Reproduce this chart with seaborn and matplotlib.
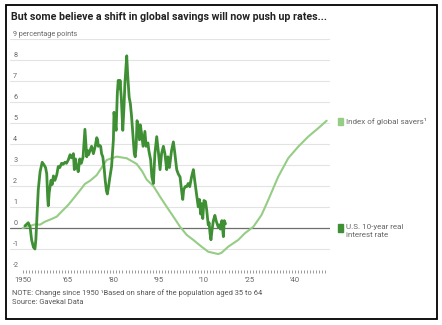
import matplotlib
matplotlib.use("Agg")
import matplotlib.pyplot as plt
import matplotlib.patches as mpatches
import matplotlib.transforms as mtransforms
import numpy as np
import pandas as pd
import seaborn as sns

# U.S. 10-year real interest rate, percentage points
us_years = [
    1950.8, 1951.9, 1952.5, 1953.0, 1953.6, 1954.1, 1954.4, 1954.7, 1955.2, 1955.8,
    1956.5, 1957.2, 1957.6, 1958.0, 1958.3, 1958.5, 1958.8, 1959.4, 1959.8, 1960.2,
    1960.7, 1961.3, 1961.8, 1962.3, 1962.9, 1963.4, 1964.0, 1964.5, 1965.1, 1965.7,
    1966.2, 1966.8, 1967.1, 1967.5, 1967.8, 1968.4, 1968.9, 1969.4, 1970.0, 1970.3,
    1970.6, 1970.9, 1971.2, 1971.5, 1971.8, 1972.3, 1972.8, 1973.4, 1974.0, 1974.5,
    1974.8, 1975.0, 1975.4, 1975.8, 1976.1, 1976.5, 1976.9, 1977.3, 1977.7, 1978.0,
    1978.4, 1978.8, 1979.4, 1980.0, 1980.2, 1980.5, 1980.9, 1981.3, 1981.6, 1982.0,
    1982.2, 1982.6, 1983.1, 1983.5, 1983.8, 1984.4, 1984.7, 1985.2, 1985.6, 1986.0,
    1986.4, 1986.9, 1987.2, 1987.5, 1987.8, 1988.2, 1988.6, 1988.9, 1989.3, 1989.8,
    1990.4, 1990.8, 1991.4, 1991.7, 1992.3, 1992.7, 1993.2, 1993.7, 1994.3, 1994.8,
    1995.4, 1995.9, 1996.5, 1997.0, 1997.6, 1998.0, 1998.5, 1999.2, 1999.8, 2000.3,
    2000.9, 2001.4, 2002.0, 2002.6, 2002.9, 2003.2, 2003.7, 2004.2, 2004.7, 2005.2,
    2005.8, 2006.4, 2006.9, 2007.4, 2008.0, 2008.4, 2008.8, 2009.1, 2009.5, 2009.9,
    2010.4, 2010.8, 2011.3, 2011.6, 2011.9, 2012.2, 2012.6, 2013.0, 2013.5, 2013.9,
    2014.6, 2015.0, 2015.3, 2015.8, 2016.3, 2016.6, 2017.0,
]
us_rate = [
    0.10, 0.25, 0.05, -0.56, -0.91, -1.00, -0.56, 0.35, 1.82, 2.68,
    3.13, 2.98, 2.88, 2.58, 1.47, 1.06, 1.67, 2.27, 2.07, 2.48,
    2.27, 2.53, 2.93, 2.88, 3.08, 3.03, 3.13, 3.08, 3.24, 3.49,
    3.34, 3.54, 2.78, 3.29, 2.98, 2.68, 3.29, 3.08, 3.39, 4.05,
    4.70, 4.05, 3.39, 3.69, 3.49, 3.69, 3.89, 3.54, 3.89, 4.30,
    4.20, 3.89, 3.94, 3.89, 3.54, 3.39, 2.93, 2.27, 1.77, 1.62,
    1.97, 2.38, 2.93, 4.20, 5.51, 5.11, 4.65, 6.42, 7.03, 6.63,
    7.03, 6.22, 4.65, 5.77, 6.88, 8.20, 7.33, 6.22, 5.92, 5.31,
    4.50, 3.54, 3.39, 3.84, 5.11, 4.91, 4.20, 4.91, 4.50, 3.89,
    4.60, 3.89, 4.05, 3.69, 3.24, 2.43, 2.12, 3.54, 4.35, 3.69,
    2.78, 3.54, 3.89, 3.54, 2.78, 3.39, 2.88, 3.69, 4.10, 3.54,
    2.78, 2.58, 2.43, 1.67, 1.36, 1.82, 1.97, 1.97, 2.12, 1.97,
    2.43, 2.78, 2.20, 1.67, 1.01, 1.36, 0.66, 1.16, 0.45, 1.31,
    1.26, 0.86, 0.15, 0.25, -0.26, -0.56, -0.05, 0.35, 0.60, 0.35,
    0.05, 0.15, -0.05, 0.35, -0.41, 0.35, 0.20,
]

# Index of global savers (share of population aged 35 to 64), change since 1950
savers_years = [
    1950.0, 1952.0, 1954.1, 1955.8, 1957.4, 1959.6, 1961.3, 1962.9, 1965.1, 1967.3,
    1969.5, 1970.6, 1972.3, 1974.5, 1977.8, 1981.1, 1984.4, 1987.7, 1989.5, 1991.0,
    1993.2, 1995.4, 1997.6, 1999.8, 2002.0, 2004.2, 2006.4, 2009.1, 2011.3, 2014.6,
    2015.7, 2017.9, 2021.2, 2023.4, 2026.2, 2028.9, 2031.1, 2034.4, 2037.7, 2041.0,
    2044.3, 2047.6, 2050.4,
]
savers_index = [
    0.00, 0.08, 0.17, 0.16, 0.30, 0.43, 0.54, 0.78, 1.10, 1.49,
    1.89, 2.10, 2.25, 2.52, 3.24, 3.40, 3.32, 3.05, 2.70, 2.30,
    2.00, 1.49, 1.01, 0.54, 0.06, -0.33, -0.57, -0.89, -1.13, -1.24,
    -1.18, -0.89, -0.57, -0.25, 0.06, 0.62, 1.33, 2.44, 3.32, 3.87,
    4.35, 4.75, 5.11,
]

y_ticks = list(range(-2, 10))
y_labels = [str(v) for v in range(-2, 9)] + ["9 percentage points"]
x_major = [1950, 1965, 1980, 1995, 2010, 2025, 2040]
x_labels = ["1950", "\u201965", "\u201980", "\u201995", "\u201910", "\u201925", "\u201940"]

DARK = "#3f8f34"
LIGHT = "#95cd84"
GREY_TXT = "#666666"

sns.set_theme(style="white")
plt.rcParams["font.family"] = ["Roboto", "DejaVu Sans"]

W, H = 442, 325
fig = plt.figure(figsize=(W / 100, H / 100), dpi=100)
ax = fig.add_axes([10 / W, 1 - 270 / H, 320 / W, 231 / H])

us_df = pd.DataFrame({"year": us_years, "value": us_rate})
sv_df = pd.DataFrame({"year": savers_years, "value": savers_index})

# horizontal gridlines and zero line
for v in range(-1, 10):
    if v == 0:
        continue
    ax.axhline(v, color="#e3e3e3", lw=0.8, zorder=0)
ax.axhline(0, color="#6e6e6e", lw=0.9, zorder=1)

sns.lineplot(data=sv_df, x="year", y="value", ax=ax, color=LIGHT, lw=1.5,
             estimator=None, sort=False, zorder=2)
sns.lineplot(data=us_df, x="year", y="value", ax=ax, color=DARK, lw=2.0,
             estimator=None, sort=False, zorder=3)

ax.set_xlim(1945.87, 2051.5)
ax.set_ylim(-2, 9)
ax.set_xlabel("")
ax.set_ylabel("")
for s in ax.spines.values():
    s.set_visible(False)

# y labels sit above their gridlines at the left edge
ax.set_yticks([])
for v, lab in zip(y_ticks, y_labels):
    ax.annotate(lab, xy=(0, v), xycoords=("axes fraction", "data"),
                xytext=(2.3, 1.0), textcoords="offset points",
                ha="left", va="bottom", fontsize=5.2, color=GREY_TXT)

# x ticks: one per year, labels every 15 years
ax.set_xticks(x_major)
ax.set_xticklabels(x_labels)
ax.set_xticks(list(range(1950, 2051)), minor=True)
ax.tick_params(axis="x", which="both", direction="out", length=2.2, width=0.6,
               color="#8a8a8a", bottom=True)
ax.tick_params(axis="x", which="major", labelsize=5.5, labelcolor=GREY_TXT, pad=2.5)

# series labels on the right
blend = mtransforms.blended_transform_factory(ax.transAxes, ax.transData)
def series_label(y_val, text, color):
    ax.add_patch(mpatches.Rectangle((1.025, y_val - 0.17), 0.0156, 0.34,
                                    transform=blend, color=color, clip_on=False))
    ax.text(1.05, y_val + 0.17, text, transform=blend, ha="left", va="top",
            fontsize=5.8, color=GREY_TXT, linespacing=1.35, clip_on=False)

series_label(5.07, "Index of global savers\u00b9", LIGHT)
series_label(0.0, "U.S. 10-year real\ninterest rate", DARK)

fig.text(11 / W, 1 - 17 / H, "But some believe a shift in global savings will now push up rates...",
         ha="left", va="center", fontsize=7.65, fontweight="bold", color="#222222")
fig.text(12 / W, 1 - 293 / H,
         "NOTE: Change since 1950 \u00b9Based on share of the population aged 35 to 64",
         ha="left", va="center", fontsize=5.4, color="#555555")
fig.text(12 / W, 1 - 302 / H, "Source: Gavekal Data",
         ha="left", va="center", fontsize=5.4, color="#555555")

# outer frame
fig.patches.append(mpatches.Rectangle((6 / W, 1 - 319 / H), 431 / W, 314 / H,
                                      transform=fig.transFigure, fill=False,
                                      ec="black", lw=1.3))

fig.savefig("out.png", dpi=100)
